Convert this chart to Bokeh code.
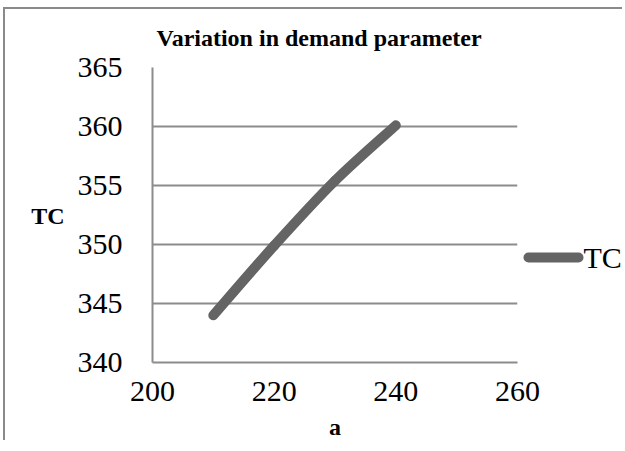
from bokeh.plotting import figure
from bokeh.models import Range1d, FixedTicker, LinearAxis
from bokeh.embed import file_html
from bokeh.resources import INLINE

# data
a_values = [210, 220, 230, 240]
tc_values = [344.0, 349.9, 355.4, 360.1]
x_ticks = [200, 220, 240, 260]
y_ticks = [340, 345, 350, 355, 360, 365]
title_text = "Variation in demand parameter"
x_label = "a"
y_label = "TC"
series_name = "TC"

SERIF = "Liberation Serif"
GRID = "#8c8c8c"
LINE_COLOR = "#646464"

p = figure(width=619, height=433, output_backend="svg", toolbar_location=None,
           x_range=Range1d(200, 260), y_range=Range1d(340, 365),
           min_border_left=147, min_border_right=104, min_border_top=58, min_border_bottom=77)
p.styles = {"border-left": "2px solid #8a8a8a", "border-top": "2px solid #8a8a8a",
            "margin-left": "3px", "margin-top": "7px"}

p.title.text = title_text
p.title.text_font = SERIF
p.title.text_font_size = "24px"
p.title.text_font_style = "bold"
p.title.align = "left"
p.title.vertical_align = "top"
p.title.offset = 4
p.title.standoff = 29
p.title.text_color = "black"

p.outline_line_color = None
p.background_fill_color = "white"
p.border_fill_color = "white"

for ax in (p.xaxis[0], p.yaxis[0]):
    ax.axis_line_color = GRID
    ax.axis_line_width = 2
    ax.major_tick_line_color = None
    ax.minor_tick_line_color = None
    ax.major_label_text_font = SERIF
    ax.major_label_text_font_size = "30px"
    ax.major_label_text_color = "black"
    ax.axis_label_text_font = SERIF
    ax.axis_label_text_font_size = "24px"
    ax.axis_label_text_font_style = "bold"
    ax.axis_label_text_color = "black"

p.xaxis.ticker = FixedTicker(ticks=x_ticks)
p.yaxis.ticker = FixedTicker(ticks=y_ticks)
p.xaxis.axis_label = x_label
p.xaxis.major_label_standoff = 13
p.xaxis.axis_label_standoff = 10
p.yaxis.major_label_standoff = 24

# horizontal y-axis title, drawn as the single label of an outer axis
y_title_pos = 352.4
ytitle_axis = LinearAxis(ticker=FixedTicker(ticks=[y_title_pos]),
                         major_label_overrides={y_title_pos: y_label},
                         axis_line_color=None, major_tick_line_color=None,
                         minor_tick_line_color=None, major_label_standoff=4,
                         major_label_text_font=SERIF, major_label_text_font_size="24px",
                         major_label_text_font_style="bold", major_label_text_color="black")
p.add_layout(ytitle_axis, "left")

# legend key ("TC" with thick line) drawn as one tick + label of a right axis
legend_pos = 348.9
legend_axis = LinearAxis(ticker=FixedTicker(ticks=[legend_pos]),
                         major_label_overrides={legend_pos: series_name},
                         axis_line_color=None, minor_tick_line_color=None,
                         major_tick_line_color=LINE_COLOR, major_tick_line_width=10,
                         major_tick_line_cap="round", major_tick_in=-11, major_tick_out=61,
                         major_label_standoff=5,
                         major_label_text_font=SERIF, major_label_text_font_size="30px",
                         major_label_text_color="black")
p.add_layout(legend_axis, "right")

p.xgrid.grid_line_color = None
p.ygrid.grid_line_color = GRID
p.ygrid.grid_line_width = 2

# smoothed curve (Catmull-Rom -> cubic Bezier) through the data points
n = len(a_values)
x0, y0, x1, y1, cx0, cy0, cx1, cy1 = ([] for _ in range(8))
for i in range(n - 1):
    pa = (a_values[max(i - 1, 0)], tc_values[max(i - 1, 0)])
    pb = (a_values[i], tc_values[i])
    pc = (a_values[i + 1], tc_values[i + 1])
    pd = (a_values[min(i + 2, n - 1)], tc_values[min(i + 2, n - 1)])
    x0.append(pb[0]); y0.append(pb[1]); x1.append(pc[0]); y1.append(pc[1])
    cx0.append(pb[0] + (pc[0] - pa[0]) / 6); cy0.append(pb[1] + (pc[1] - pa[1]) / 6)
    cx1.append(pc[0] - (pd[0] - pb[0]) / 6); cy1.append(pc[1] - (pd[1] - pb[1]) / 6)
p.bezier(x0=x0, y0=y0, x1=x1, y1=y1, cx0=cx0, cy0=cy0, cx1=cx1, cy1=cy1,
         line_color=LINE_COLOR, line_width=10, line_cap="round")

open("out.html", "w").write(file_html(p, INLINE))
